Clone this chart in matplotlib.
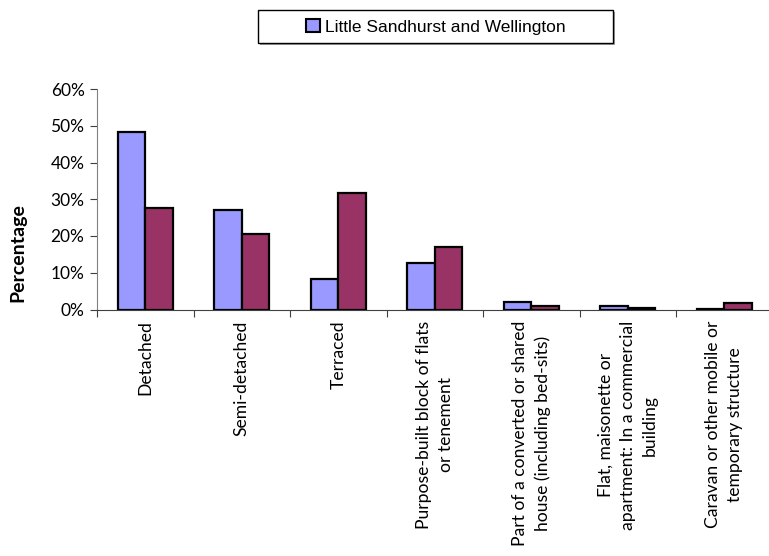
import numpy as np
import matplotlib.pyplot as plt
from matplotlib.patches import Rectangle
from matplotlib.ticker import PercentFormatter

categories = [
    "Detached",
    "Semi-detached",
    "Terraced",
    "Purpose-built block of flats\nor tenement",
    "Part of a converted or shared\nhouse (including bed-sits)",
    "Flat, maisonette or\napartment: In a commercial\nbuilding",
    "Caravan or other mobile or\ntemporary structure",
]
local_pct = [48.4, 27.1, 8.3, 12.7, 2.1, 1.0, 0.1]
other_pct = [27.5, 20.5, 31.8, 17.1, 0.9, 0.4, 1.7]
series_name = "Little Sandhurst and Wellington"
y_ticks = [0, 10, 20, 30, 40, 50, 60]

W, H = 769, 556
fig = plt.figure(figsize=(W / 100, H / 100), dpi=100)
ax = fig.add_axes([97 / W, (H - 309.5) / H, 675.5 / W, 220.5 / H])

x = np.arange(len(categories))
bw = 0.285
ax.bar(x - bw / 2, local_pct, bw, color='#9999ff', edgecolor='black',
       linewidth=1.6, label=series_name)
ax.bar(x + bw / 2, other_pct, bw, color='#993366', edgecolor='black',
       linewidth=1.6)

ax.set_xlim(-0.5, len(categories) - 0.5)
ax.set_ylim(0, 60)
ax.set_yticks(y_ticks)
ax.yaxis.set_major_formatter(PercentFormatter(decimals=0))
ax.set_xticks(np.arange(len(categories) + 1) - 0.5)
ax.set_xticklabels([])
ax.set_xticks(x, minor=True)
ax.set_xticklabels(categories, minor=True, rotation=90, ha='center',
                   va='top', multialignment='center', linespacing=1.45,
                   family='Lato', fontsize=12.6)
ax.tick_params(axis='x', which='minor', length=0, pad=8)
ax.tick_params(axis='x', which='major', length=5, direction='out',
               color='#404040')
ax.tick_params(axis='y', length=5, direction='out', color='#404040',
               labelsize=12.5, pad=4)
for lbl in ax.get_yticklabels():
    lbl.set_family('Lato')

for s in ['top', 'right']:
    ax.spines[s].set_visible(False)
ax.spines['left'].set_color('#808080')
ax.spines['bottom'].set_color('#404040')

fig.text(18 / W, (H - 253) / H, "Percentage", rotation=90, ha='center',
         va='center', fontweight='bold', family='Lato', fontsize=14)

# legend box drawn by hand (wide horizontal padding), with a soft shadow
fig.patches.append(Rectangle((260 / W, (H - 45) / H), 355 / W, 33 / H,
                             transform=fig.transFigure, facecolor='#a0a0a0',
                             edgecolor='none', zorder=1))
fig.patches.append(Rectangle((258 / W, (H - 43) / H), 355 / W, 33 / H,
                             transform=fig.transFigure, facecolor='white',
                             edgecolor='black', linewidth=1.0, zorder=2))
leg = fig.legend(loc='center', bbox_to_anchor=(436 / W, (H - 27) / H),
                 frameon=False,
                 prop={'family': 'Liberation Sans', 'size': 12.5},
                 handlelength=0.8, handleheight=0.8, handletextpad=0.3,
                 borderpad=0, borderaxespad=0)
leg.set_zorder(3)
for h in leg.legend_handles:
    h.set_linewidth(1.5)

fig.savefig("out.png", dpi=100)
